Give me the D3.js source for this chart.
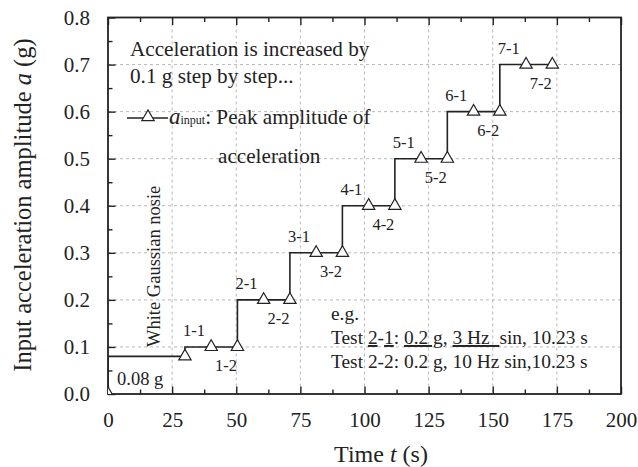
<!DOCTYPE html>
<html>
<head>
<meta charset="utf-8">
<script src="https://cdn.jsdelivr.net/npm/d3@7"></script>
</head>
<body style="margin:0; background:#fff">
<div id="chart"></div>
<script>
// step input: time at end of each hold (s) and amplitude (g)
var timeS = [0, 30, 40.23, 50.46, 60.69, 70.92, 81.15, 91.38, 101.61, 111.84, 122.07, 132.3, 142.53, 152.76, 162.99, 173.22];
var ampG = [0, 0.08, 0.1, 0.1, 0.2, 0.2, 0.3, 0.3, 0.4, 0.4, 0.5, 0.5, 0.6, 0.6, 0.7, 0.7];
var steps = [1, 2, 3, 4, 5, 6, 7];
var xTicks = [0, 25, 50, 75, 100, 125, 150, 175, 200];
var xMinor = [12.5, 37.5, 62.5, 87.5, 112.5, 137.5, 162.5, 187.5];
var yTicks = [0, 0.1, 0.2, 0.3, 0.4, 0.5, 0.6, 0.7, 0.8];
var yMinor = [0.05, 0.15, 0.25, 0.35, 0.45, 0.55, 0.65, 0.75];

var SERIF = "'Liberation Serif', 'Times New Roman', serif";

var Chart = {
    WIDTH: 638,
    HEIGHT: 467,
    LEFT: 108,
    RIGHT: 621,
    TOP: 17.5,
    BOTTOM: 394
};

var svg = d3.select("#chart").append("svg")
        .attr("width", Chart.WIDTH)
        .attr("height", Chart.HEIGHT)
        .style("display", "block")
        .style("font-family", SERIF);

var x = d3.scaleLinear().domain([0, 200]).range([Chart.LEFT, Chart.RIGHT]);
var y = d3.scaleLinear().domain([0, 0.8]).range([Chart.BOTTOM, Chart.TOP]);

svg.append("clipPath").attr("id", "plotclip")
    .append("rect")
    .attr("x", Chart.LEFT).attr("y", Chart.TOP)
    .attr("width", Chart.RIGHT - Chart.LEFT)
    .attr("height", Chart.BOTTOM - Chart.TOP);

// grid
var grid = svg.append("g").attr("stroke", "#b8b8b8").attr("stroke-width", 1).attr("stroke-dasharray", "3,3");
grid.selectAll(".gx").data(xTicks.slice(1, -1)).enter().append("line")
    .attr("x1", function (d) { return x(d); }).attr("x2", function (d) { return x(d); })
    .attr("y1", Chart.TOP).attr("y2", Chart.BOTTOM);
grid.selectAll(".gy").data(yTicks.slice(1, -1)).enter().append("line")
    .attr("y1", function (d) { return y(d); }).attr("y2", function (d) { return y(d); })
    .attr("x1", Chart.LEFT).attr("x2", Chart.RIGHT);

// axes
function styleAxis(g) {
    g.attr("font-family", null).attr("font-size", null);
    g.select(".domain").remove();
    g.selectAll("line").attr("stroke", "#222").attr("stroke-width", 1.4);
    g.selectAll("text").style("font-size", "21px").style("font-family", SERIF).attr("fill", "#222");
}

svg.append("g").attr("transform", "translate(0," + Chart.BOTTOM + ")")
    .call(d3.axisBottom(x).tickValues(xTicks).tickSize(-7.5).tickPadding(18).tickFormat(d3.format("d")))
    .call(styleAxis);
svg.append("g").attr("transform", "translate(0," + Chart.BOTTOM + ")")
    .call(d3.axisBottom(x).tickValues(xMinor).tickSize(-4.5).tickFormat(""))
    .call(styleAxis);
svg.append("g").attr("transform", "translate(0," + Chart.TOP + ")")
    .call(d3.axisTop(x).tickValues(xTicks).tickSize(-7.5).tickFormat(""))
    .call(styleAxis);
svg.append("g").attr("transform", "translate(0," + Chart.TOP + ")")
    .call(d3.axisTop(x).tickValues(xMinor).tickSize(-4.5).tickFormat(""))
    .call(styleAxis);
svg.append("g").attr("transform", "translate(" + Chart.LEFT + ",0)")
    .call(d3.axisLeft(y).tickValues(yTicks).tickSize(-7.5).tickPadding(18).tickFormat(d3.format(".1f")))
    .call(styleAxis);
svg.append("g").attr("transform", "translate(" + Chart.LEFT + ",0)")
    .call(d3.axisLeft(y).tickValues(yMinor).tickSize(-4.5).tickFormat(""))
    .call(styleAxis);

// frame
svg.append("rect")
    .attr("x", Chart.LEFT).attr("y", Chart.TOP)
    .attr("width", Chart.RIGHT - Chart.LEFT).attr("height", Chart.BOTTOM - Chart.TOP)
    .attr("fill", "none").attr("stroke", "#222").attr("stroke-width", 1.8);

// step line
var pts = timeS.map(function (t, i) { return [t, ampG[i]]; });
var line = d3.line()
    .x(function (d) { return x(d[0]); })
    .y(function (d) { return y(d[1]); })
    .curve(d3.curveStepBefore);
var plot = svg.append("g").attr("clip-path", "url(#plotclip)");
plot.append("path").datum(pts)
    .attr("d", line)
    .attr("fill", "none").attr("stroke", "#222").attr("stroke-width", 1.6);

var tri = d3.symbol().type(d3.symbolTriangle).size(66);
plot.selectAll(".mk").data(pts).enter().append("path")
    .attr("d", tri)
    .attr("transform", function (d) { return "translate(" + x(d[0]) + "," + y(d[1]) + ")"; })
    .attr("fill", "#fff").attr("stroke", "#222").attr("stroke-width", 1.2);

function label(px, py, size, str) {
    return svg.append("text").attr("x", px).attr("y", py)
        .style("font-family", SERIF).style("font-size", size + "px")
        .attr("fill", "#222").text(str);
}

// step labels
steps.forEach(function (k) {
    var x0 = x(timeS[2 * k - 1]);
    var yv = y(ampG[2 * k]);
    label(x0 + 9, yv - 10.5, 16.5, k + "-1").attr("text-anchor", "middle");
    label(x0 + 41, yv + 24.5, 16.5, k + "-2").attr("text-anchor", "middle");
});

// annotations
label(130, 56, 21.2, "Acceleration is increased by");
label(130, 83, 21.2, "0.1 g step by step...");

svg.append("line").attr("x1", 127).attr("x2", 168).attr("y1", 118).attr("y2", 118)
    .attr("stroke", "#222").attr("stroke-width", 1.6);
svg.append("path").attr("d", tri)
    .attr("transform", "translate(148,117)")
    .attr("fill", "#fff").attr("stroke", "#222").attr("stroke-width", 1.2);
var leg = label(169, 124, 21.2, "");
leg.append("tspan").attr("font-style", "italic").style("font-size", "23px").text("a");
leg.append("tspan").style("font-size", "12px").text("input");
leg.append("tspan").text(": Peak amplitude of");
label(218, 163, 21.2, "acceleration");

label(0, 0, 18.5, "White Gaussian nosie").attr("transform", "translate(160,347) rotate(-90)");

label(117, 385, 18.5, "0.08 g");

label(331, 320, 19.4, "e.g.");
var t1 = label(331, 344, 19.4, "").style("white-space", "pre");
[["Test ", false], ["2", true], ["-", false], ["1", true], [": ", false], ["0.2 g,", true],
 [" ", false], ["3 Hz  ", true], ["sin, 10.23 s", false]].forEach(function (p) {
    t1.append("tspan").style("text-decoration", p[1] ? "underline" : "none").text(p[0]);
});
label(331, 368, 19.4, "Test 2-2: 0.2 g, 10 Hz sin,10.23 s");

// axis titles
var xt = label(381, 462, 24, "").attr("text-anchor", "middle");
xt.append("tspan").text("Time ");
xt.append("tspan").attr("font-style", "italic").text("t");
xt.append("tspan").text(" (s)");

var yt = label(0, 0, 24.5, "").attr("text-anchor", "middle").attr("transform", "translate(31,205) rotate(-90)");
yt.append("tspan").text("Input acceleration amplitude ");
yt.append("tspan").attr("font-style", "italic").text("a");
yt.append("tspan").text(" (g)");
</script>
</body>
</html>
